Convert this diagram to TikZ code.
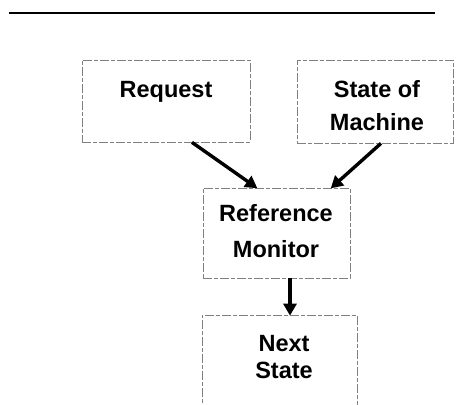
\documentclass[tikz,border=0pt]{standalone}
\usepackage{fontspec}
\setmainfont{Liberation Sans}
\usetikzlibrary{arrows.meta}
\begin{document}
\begin{tikzpicture}[x=1pt,y=-1pt,
  box/.style={draw=black!50, line width=0.7pt, dash pattern=on 9pt off 2pt on 4pt off 2pt, rectangle, inner sep=0pt},
  lbl/.style={font=\fontsize{23.5}{24}\selectfont\bfseries, inner sep=0pt, anchor=base},
  arr/.style={line width=3.4pt, -{Triangle[length=12pt,width=13pt]}, shorten >=-1pt}]
\useasboundingbox (0,0) rectangle (460,404);
% top rule
\draw[line width=1.8pt] (9,13) -- (435,13);
% boxes
\node[box, minimum width=168pt, minimum height=82pt] (req) at (166,101) {};
\node[box, minimum width=156pt, minimum height=83pt] (som) at (375,101.5) {};
\node[box, minimum width=147pt, minimum height=90pt] (rm) at (276.5,233) {};
\node[box, minimum width=155pt, minimum height=110pt] (ns) at (279.5,370) {};
% texts
\node[lbl] (treq) at (166,97) {Request};
\node[lbl] (tsom1) at (377,97) {State of};
\node[lbl] (tsom2) at (377,130) {Machine};
\node[lbl] (trm1) at (276,221) {Reference};
\node[lbl] (trm2) at (276,257) {Monitor};
\node[lbl] (tns1) at (284,351) {Next};
\node[lbl] (tns2) at (284,378) {State};
% arrows
\draw[arr] ([xshift=26pt]req.south) -- ([xshift=-20pt]rm.north);
\draw[arr] ([xshift=6pt]som.south) -- ([xshift=55pt]rm.north);
\draw[arr] ([xshift=13.5pt]rm.south) -- ([xshift=10.5pt]ns.north);
\end{tikzpicture}
\end{document}
